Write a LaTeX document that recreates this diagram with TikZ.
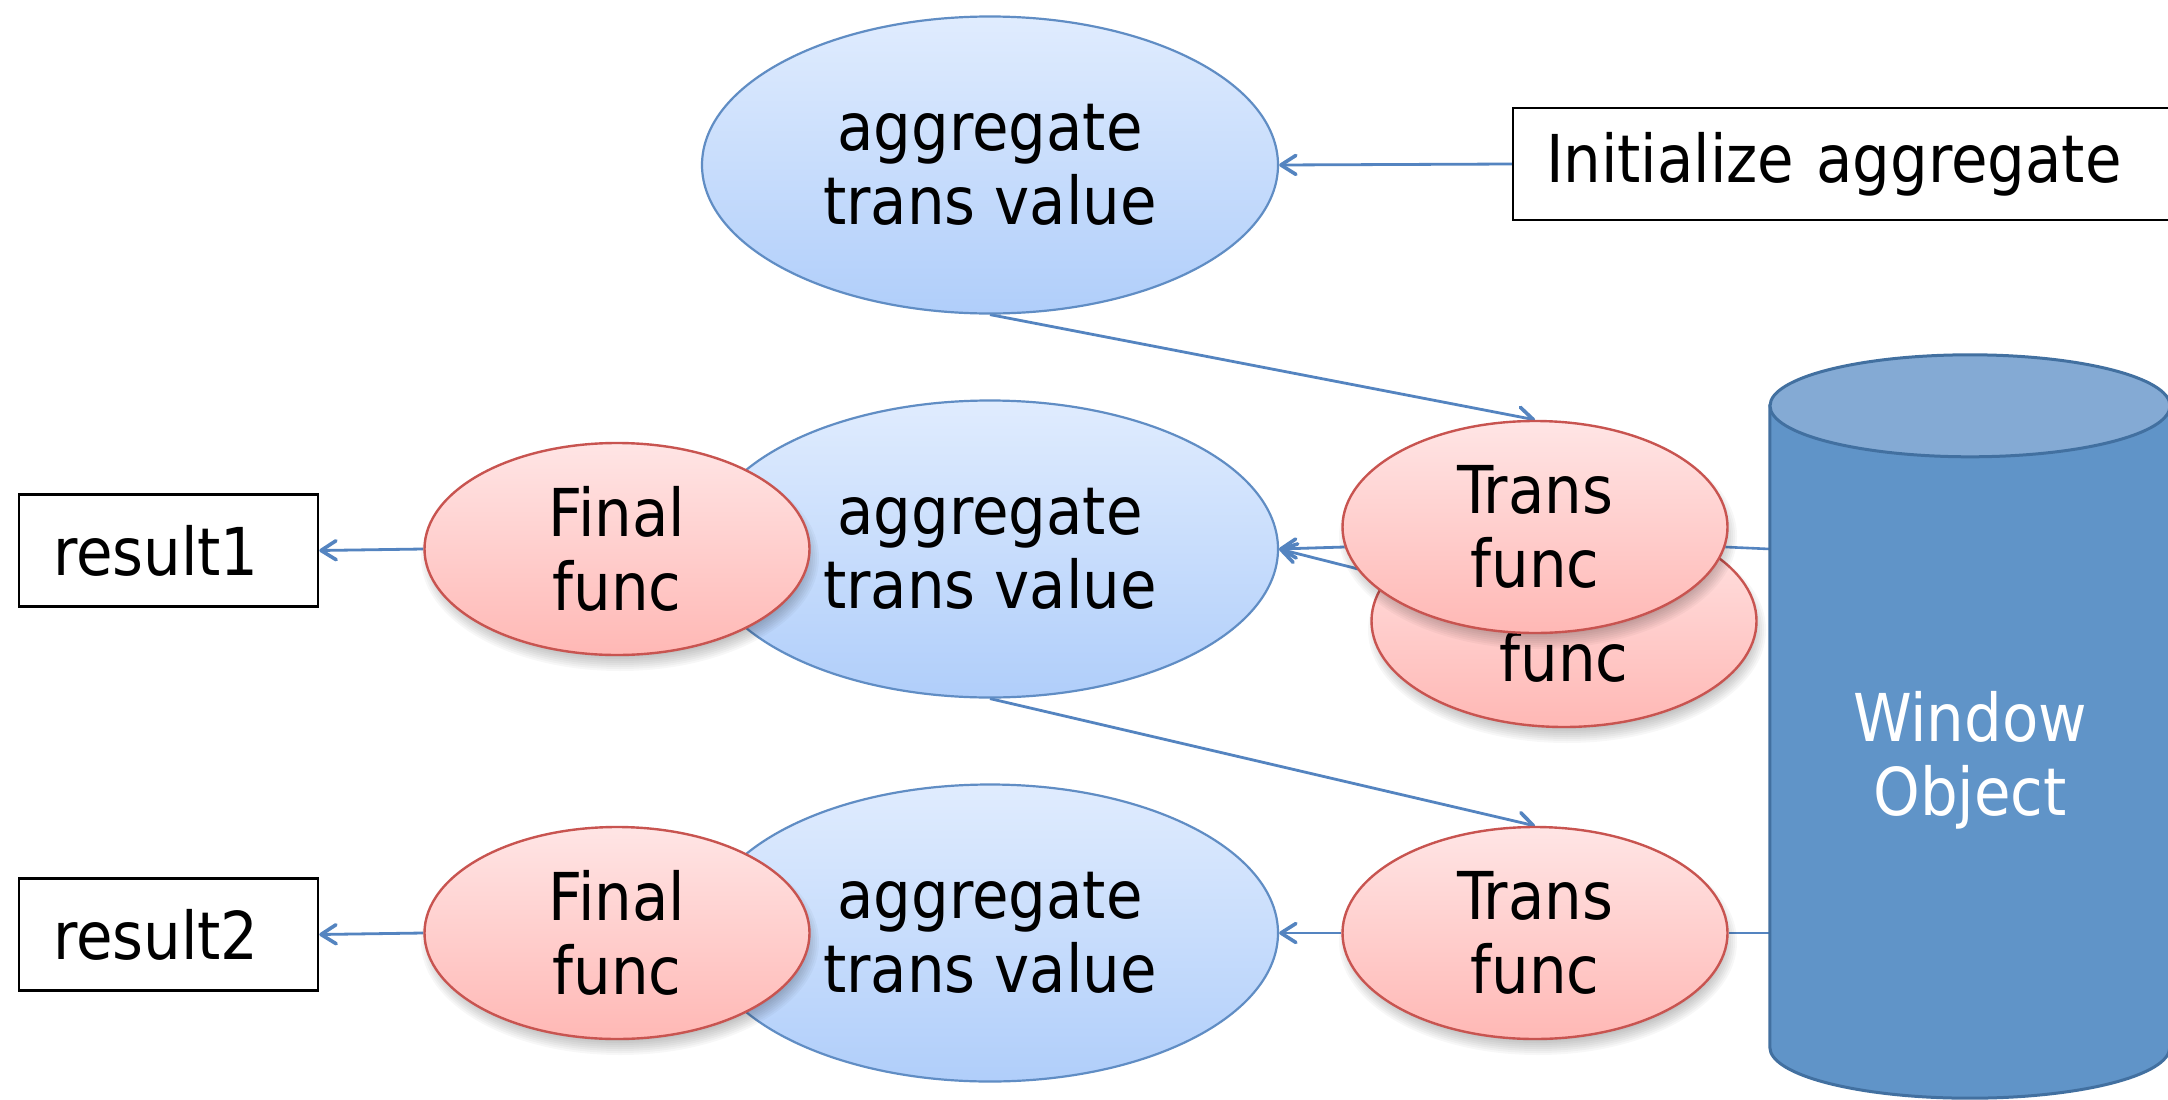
\documentclass[tikz,border=0pt]{standalone}
\usepackage{fontspec}
\setmainfont{DejaVu Sans Condensed}
\usetikzlibrary{shapes.geometric,arrows.meta}

\definecolor{aggtop}{RGB}{224,236,254}
\definecolor{aggbot}{RGB}{176,206,250}
\definecolor{aggline}{RGB}{96,141,196}
\definecolor{fntop}{RGB}{255,229,229}
\definecolor{fnbot}{RGB}{255,184,181}
\definecolor{fnline}{RGB}{200,84,80}
\definecolor{wire}{RGB}{84,132,192}
\definecolor{cylbody}{RGB}{96,148,200}
\definecolor{cyltop}{RGB}{132,170,212}
\definecolor{cylline}{RGB}{66,112,160}

\pgfdeclarelayer{paper}
\pgfdeclarelayer{wires}
\pgfsetlayers{paper,wires,main}

% soft drop shadow under a function ellipse centred at (#1,#2)
\newcommand\softshadow[2]{%
  \foreach \r in {0,2,...,14}{%
    \fill[black, opacity=0.03] (#1+3,#2+9)
      ellipse[x radius={199pt-\r pt}, y radius={113pt-\r pt}];
  }%
}

\begin{document}
\begin{tikzpicture}[x=1pt,y=-1pt,
  every node/.style={font=\fontsize{66}{74}\selectfont, align=center, inner sep=0pt},
  agg/.style={ellipse, draw=aggline, line width=2.2pt, top color=aggtop, bottom color=aggbot,
    minimum width=576pt, minimum height=297pt},
  fn/.style={ellipse, draw=fnline, line width=2.4pt, top color=fntop, bottom color=fnbot,
    minimum width=385pt, minimum height=212pt},
  labelbox/.style={draw=black, line width=2.5pt, fill=white, minimum height=112pt},
  flow/.style={draw=wire, line width=2.8pt, -{Straight Barb[length=15pt,width=19pt,round,line width=3.6pt]}},
  feed/.style={draw=wire, line width=2.6pt}
]
\begin{pgfonlayer}{paper}
  \fill[white] (0,0) rectangle (2168,1100);
\end{pgfonlayer}
\clip (0,0) rectangle (2168,1100);

% aggregate transition values
\node[agg] (a1) at (990,165) {aggregate\\trans value};
\node[agg] (a2) at (990,549) {aggregate\\trans value};
\node[agg] (a3) at (990,933) {aggregate\\trans value};

% final functions
\softshadow{617}{549}
\node[fn] (f1) at (617,549) {Final\\func};
\softshadow{617}{933}
\node[fn] (f2) at (617,933) {Final\\func};

% transition functions
\softshadow{1564}{621}
\node[fn] (tb) at (1564,621) {Trans\\func};
\softshadow{1535}{527}
\node[fn] (t1) at (1535,527) {Trans\\func};
\softshadow{1535}{933}
\node[fn] (t3) at (1535,933) {Trans\\func};

% text boxes
\node[labelbox, text width=600pt, inner xsep=33pt, align=left] (init) at (1846,164) {Initialize aggregate};
\node[labelbox, minimum width=299pt, text width=231pt, inner xsep=34pt, align=left] (r1) at (168.5,550.5) {result1};
\node[labelbox, minimum width=299pt, text width=231pt, inner xsep=34pt, align=left] (r2) at (168.5,934.5) {result2};

% window object cylinder
\node[minimum width=400pt, minimum height=641pt] (win) at (1970,726.5) {};
\draw[cylline, line width=3pt, fill=cylbody] (win.north west) -- (win.south west)
  arc[start angle=180, end angle=360, x radius=200pt, y radius=51pt] -- (win.north east) -- cycle;
\draw[cylline, line width=3pt, fill=cyltop] (win.north) ellipse[x radius=200pt, y radius=51pt];
\node[text=white] (wintext) at (1970,760) {Window\\Object};

% connectors
\begin{pgfonlayer}{wires}
  \draw[flow] (init.west) -- (a1.east);
  \draw[flow] (a1.south) -- (t1.north);
  \draw[flow] (a2.south) -- (t3.north);
  \draw[flow] (t1.186.6) -- (a2.east);
  \draw[flow] (tb) -- (a2.east);
  \draw[flow] (t3.west) -- (a3.east);
  \draw[flow] (f1.west) -- (r1.east);
  \draw[flow] (f2.west) -- (r2.east);
  \draw[feed] (win.west |- a2.east) -- (t1.-6.6);
  \draw[feed] (win.west |- t3.east) -- (t3.east);
\end{pgfonlayer}
\end{tikzpicture}
\end{document}
